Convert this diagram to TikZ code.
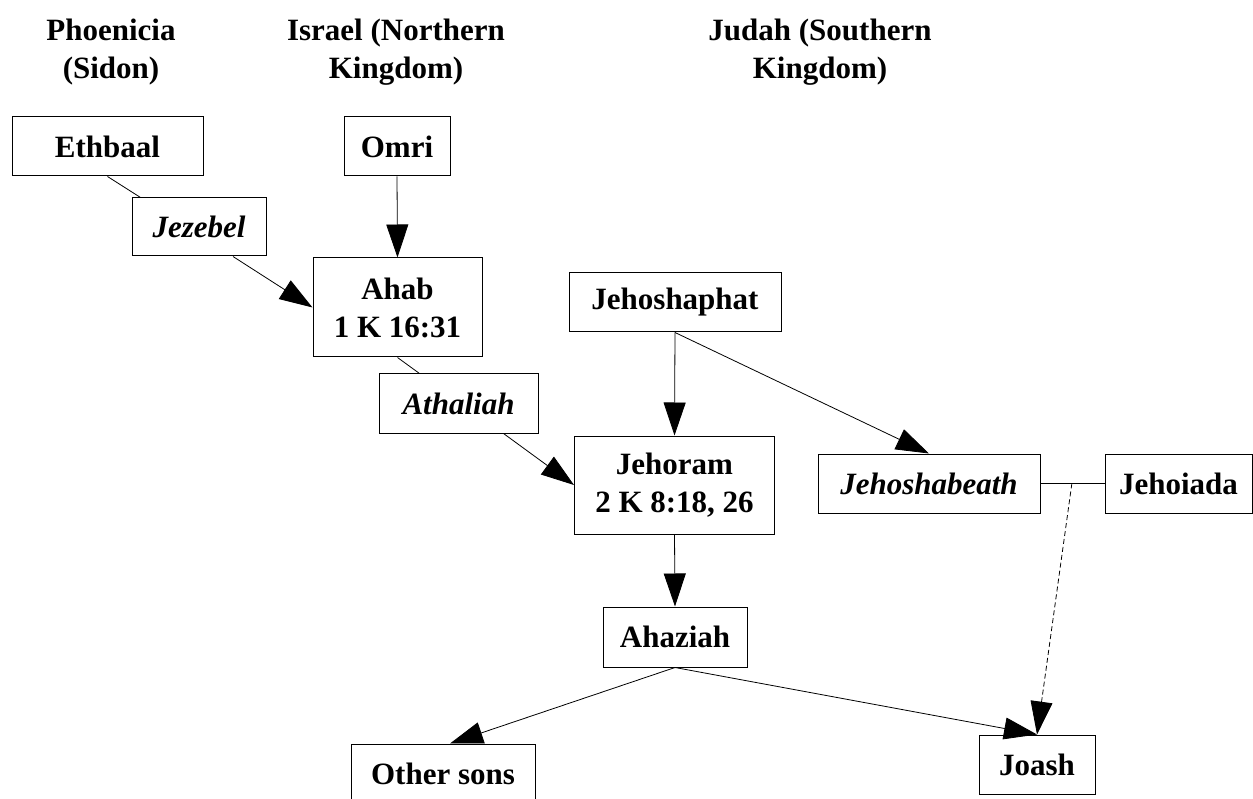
\documentclass[tikz,border=0pt]{standalone}
\usepackage{fontspec}
\setmainfont{Liberation Serif}
\usetikzlibrary{arrows.meta,calc}
\begin{document}
\begin{tikzpicture}[x=1pt,y=-1pt,
  box/.style={draw,line width=1pt,inner sep=0pt,align=center,font=\bfseries\fontsize{31}{38}\selectfont},
  wife/.style={box,font=\bfseries\itshape\fontsize{31}{38}\selectfont},
  head/.style={align=center,font=\bfseries\fontsize{31}{38}\selectfont},
  tip/.style={-{Triangle[length=33pt,width=22pt]},line width=0.8pt},
  tie/.style={line width=0.8pt}]
\useasboundingbox(0,0)rectangle(1253,799);
% headings
\node[head](phoen)at(111,52){Phoenicia\\(Sidon)};
\node[head](israel)at(396,52){Israel (Northern\\Kingdom)};
\node[head](judah)at(820,52){Judah (Southern\\Kingdom)};
% people
\node[box,minimum width=191pt,minimum height=59pt](ethbaal)at(107.5,146.5){Ethbaal};
\node[box,minimum width=106pt,minimum height=59pt](omri)at(397,146.5){Omri};
\node[wife,minimum width=134pt,minimum height=58pt](jezebel)at(199,227){Jezebel};
\node[box,minimum width=169pt,minimum height=99pt](ahab)at(397.5,307.5){Ahab\\1 K 16:31};
\node[wife,minimum width=159pt,minimum height=59pt](athaliah)at(458.5,403.5){Athaliah};
\node[box,minimum width=212pt,minimum height=59pt](jehoshaphat)at(675,302.5){Jehoshaphat};
\node[box,minimum width=200pt,minimum height=98pt](jehoram)at(674.5,485){Jehoram\\2 K 8:18, 26};
\node[wife,minimum width=222pt,minimum height=59pt](jehoshabeath)at(929,483.5){Jehoshabeath};
\node[box,minimum width=147pt,minimum height=59pt](jehoiada)at(1178.5,483.5){Jehoiada};
\node[box,minimum width=144pt,minimum height=60pt](ahaziah)at(675,637){Ahaziah};
\node[box,minimum width=184pt,minimum height=59pt](othersons)at(443,773.5){Other sons};
\node[box,minimum width=116pt,minimum height=59pt](joash)at(1037,764.5){Joash};
% lines
\draw[tie](ethbaal.south)--([xshift=9pt]jezebel.north west);
\draw[tip]([xshift=34pt]jezebel.south)--(ahab.west);
\draw[tip](omri.south)--(ahab.north);
\draw[tie](ahab.south)--([xshift=41pt]athaliah.north west);
\draw[tip]([xshift=45pt]athaliah.south)--(jehoram.west);
\draw[tip](jehoshaphat.south)--(jehoram.north);
\draw[tip](jehoshaphat.south)--(jehoshabeath.north);
\draw[tie](jehoshabeath.east)--(jehoiada.west);
\coordinate(wed)at($(jehoshabeath.east)!0.49!(jehoiada.west)$);
\draw[tip,dash pattern=on 5pt off 3pt](wed)--(joash.north);
\draw[tip](jehoram.south)--(ahaziah.north);
\draw[tip](ahaziah.south)--([xshift=7pt]othersons.north);
\draw[tip](ahaziah.south)--(joash.north);
\end{tikzpicture}
\end{document}
